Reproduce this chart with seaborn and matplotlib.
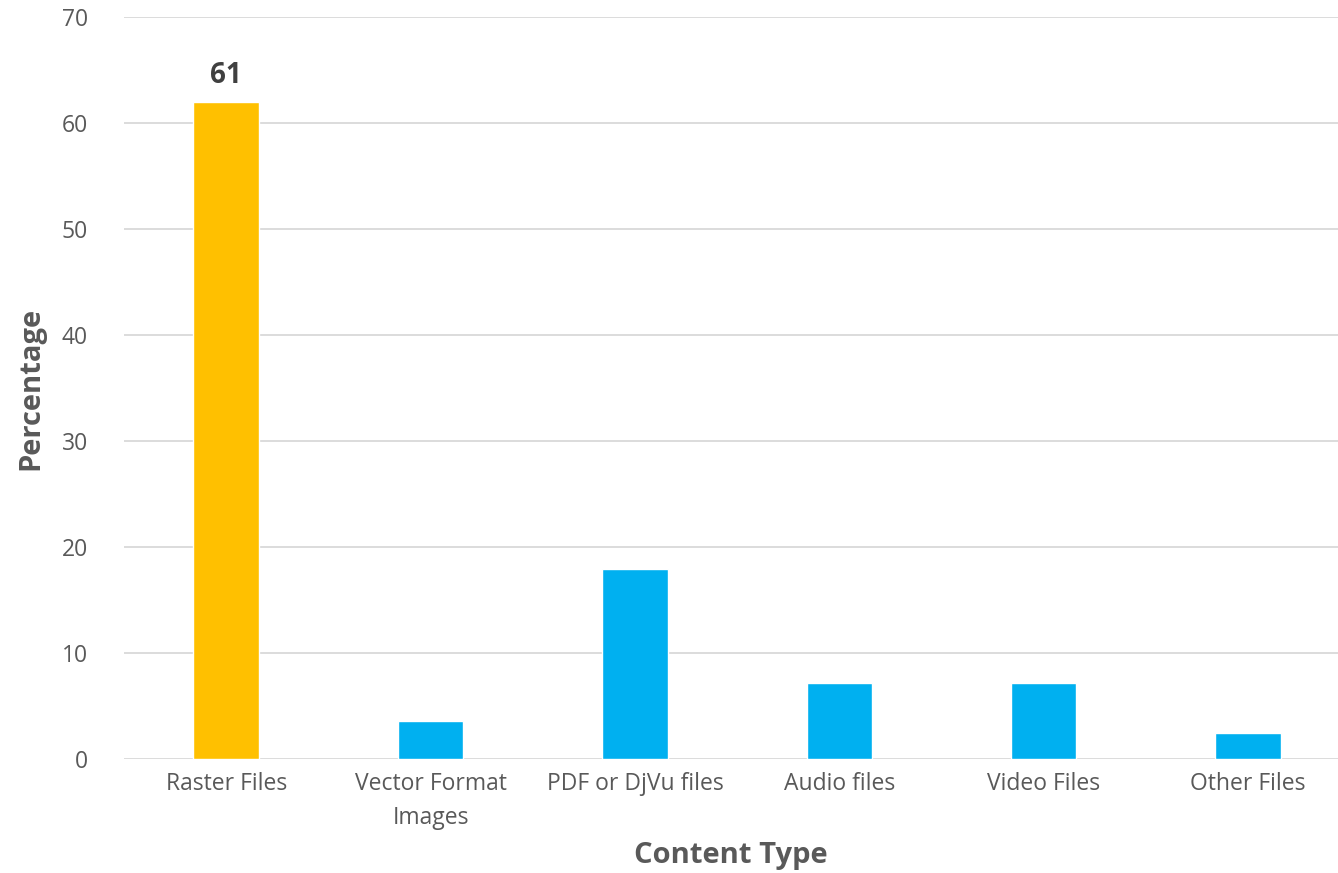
import pandas as pd
import matplotlib.pyplot as plt
import seaborn as sns

# chart values
categories = ['Raster Files', 'Vector Format\nImages', 'PDF or DjVu files',
              'Audio files', 'Video Files', 'Other Files']
percentages = [62.0, 3.6, 17.9, 7.2, 7.2, 2.5]
bar_colors = ['#FFC000', '#00B0F0', '#00B0F0', '#00B0F0', '#00B0F0', '#00B0F0']
label_text = {0: '61'}

df = pd.DataFrame({'type': categories, 'pct': percentages})

sns.set_style('white')
plt.rcParams['font.family'] = ['Open Sans', 'DejaVu Sans']

fig = plt.figure(figsize=(13.38, 8.73), dpi=100)
ax = fig.add_axes([124 / 1338, 1 - 759 / 873, 1 - 124 / 1338, (759 - 17) / 873])

sns.barplot(data=df, x='type', y='pct', hue='type', palette=bar_colors,
            width=0.32, legend=False, ax=ax, saturation=1)

ax.set_ylim(0, 70)
ax.set_xlim(-0.5, 5.44)
ax.set_yticks(range(0, 71, 10))
ax.yaxis.grid(True, color='#D9D9D9', linewidth=1.3)
ax.set_axisbelow(True)
for s in ax.spines.values():
    s.set_visible(False)
ax.tick_params(axis='both', length=0, labelsize=16.5, colors='#595959')
ax.tick_params(axis='y', pad=26)
ax.tick_params(axis='x', pad=9)
for t in ax.get_xticklabels():
    t.set_linespacing(1.6)

for i, txt in label_text.items():
    ax.text(i, percentages[i] + 1.1, txt, ha='center', va='bottom',
            fontsize=20, fontweight='bold', color='#404040')

ax.set_xlabel('Content Type', fontsize=21, fontweight='bold', color='#595959', labelpad=8)
ax.set_ylabel('Percentage', fontsize=21, fontweight='bold', color='#595959', labelpad=12)

fig.savefig('out.png', dpi=100)
